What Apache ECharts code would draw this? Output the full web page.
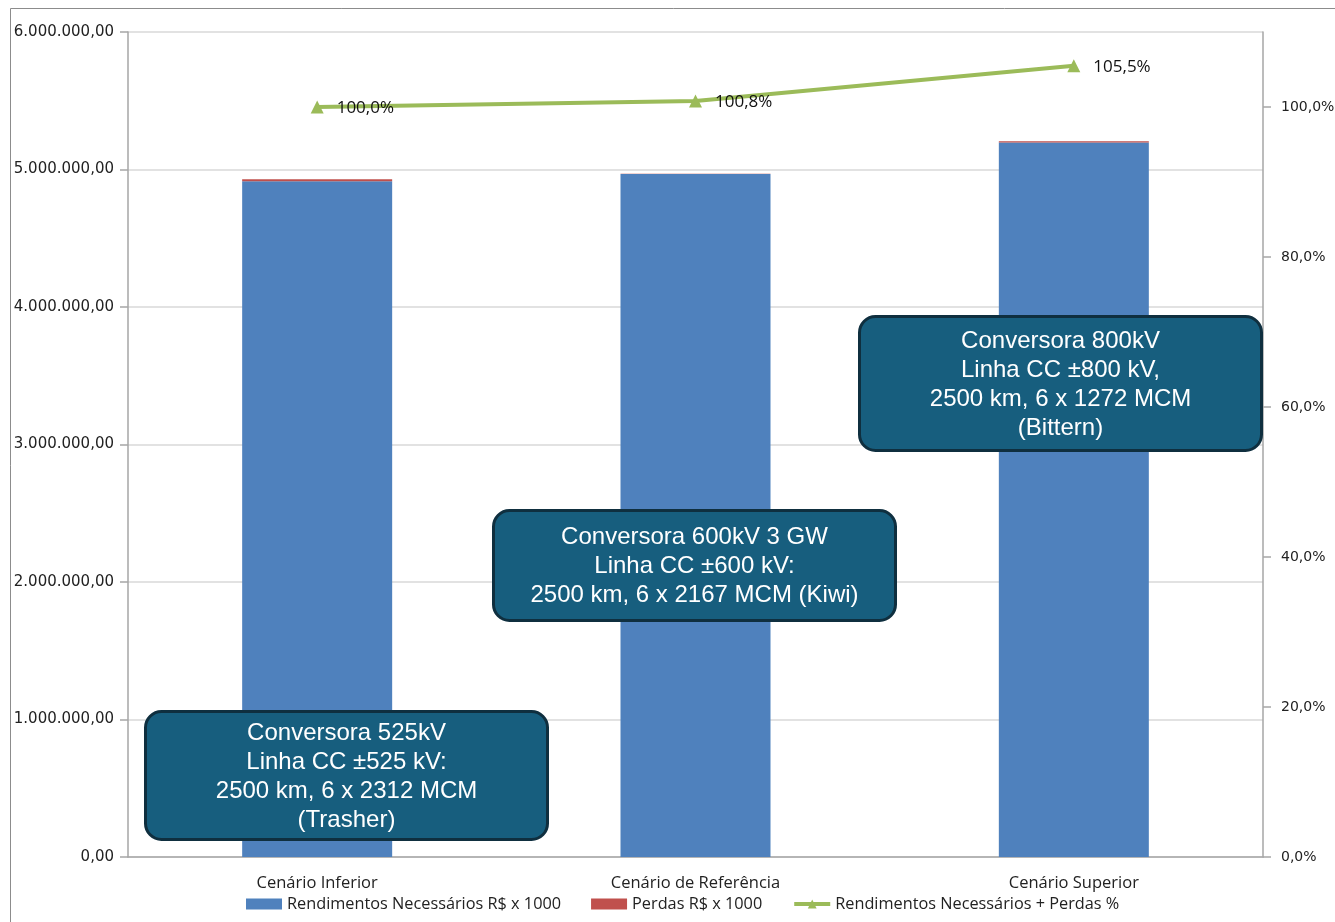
<!DOCTYPE html>
<html>
<head>
<meta charset="utf-8">
<script src="https://cdn.jsdelivr.net/npm/echarts@6/dist/echarts.min.js"></script>
<style>
html,body{margin:0;padding:0;background:#fff;}
#chart{width:1335px;height:922px;}
</style>
</head>
<body>
<div id="chart"></div>
<script>
const categories = ['Cenário Inferior', 'Cenário de Referência', 'Cenário Superior'];
const rendimentos = [4914000, 4967000, 5197000];
const perdas = [15000, 2000, 8000];
const percentual = [100.0, 100.8, 105.5];
const leftTicks = [0, 1000000, 2000000, 3000000, 4000000, 5000000, 6000000];
const rightTicks = [0, 20, 40, 60, 80, 100];
const seriesNames = ['Rendimentos Necessários R$ x 1000', 'Perdas R$ x 1000', 'Rendimentos Necessários + Perdas %'];
const boxTexts = [
  'Conversora 525kV\nLinha CC ±525 kV:\n2500 km, 6 x 2312 MCM\n(Trasher)',
  'Conversora 600kV 3 GW\nLinha CC ±600 kV:\n2500 km, 6 x 2167 MCM (Kiwi)',
  'Conversora 800kV\nLinha CC ±800 kV,\n2500 km, 6 x 1272 MCM\n(Bittern)'
];

function fmtMoney(v) {
  const s = Math.round(v).toString().replace(/\B(?=(\d{3})+(?!\d))/g, '.');
  return s + ',00';
}
function fmtPct(v) { return v.toFixed(1).replace('.', ',') + '%'; }

const chart = echarts.init(document.getElementById('chart'));
const axisGray = '#A6A6A6';
const axFont = '"DejaVu Sans", Verdana, sans-serif';
const boxFont = '"Liberation Sans", Arial, sans-serif';
const catFont = '"Open Sans", Lato, sans-serif';

function box(x, y, w, h, text) {
  return {
    type: 'group', left: x, top: y, z: 100,
    children: [
      { type: 'rect', z: 100, shape: { x: 0, y: 0, width: w, height: h, r: 16 },
        style: { fill: '#175E7E', stroke: '#0F2F3F', lineWidth: 3 } },
      { type: 'text', z: 101, x: w / 2, y: h / 2 + 1,
        style: { text: text, fill: '#fff', font: '24px ' + boxFont, align: 'center', verticalAlign: 'middle', lineHeight: 29 } }
    ]
  };
}

chart.setOption({
  animation: false,
  backgroundColor: '#fff',
  grid: { left: 128, right: 72, top: 32, bottom: 65, containLabel: false, outerBoundsMode: 'none' },
  legend: {
    left: 241, top: 891,
    itemGap: 30,
    itemWidth: 36, itemHeight: 11,
    textStyle: { fontFamily: catFont, fontSize: 16.3, color: '#222' },
    data: [
      { name: seriesNames[0], icon: 'rect' },
      { name: seriesNames[1], icon: 'rect' },
      { name: seriesNames[2], lineStyle: { width: 4 } }
    ]
  },
  xAxis: {
    type: 'category', data: categories,
    axisLine: { lineStyle: { color: axisGray, width: 1.5 } },
    axisTick: { length: 6, lineStyle: { color: axisGray, width: 1.5 } },
    axisLabel: { fontFamily: catFont, fontSize: 16.5, color: '#222', margin: 18 }
  },
  yAxis: [
    {
      type: 'value', min: 0, max: 6000000, interval: 1000000,
      axisLine: { show: true, lineStyle: { color: axisGray, width: 1.5 } },
      axisTick: { show: true, length: 8, lineStyle: { color: axisGray, width: 1.5 } },
      splitLine: { lineStyle: { color: '#D9D9D9', width: 1.5 } },
      axisLabel: { fontFamily: axFont, fontSize: 15, color: '#222', margin: 14, formatter: fmtMoney, customValues: leftTicks }
    },
    {
      type: 'value', min: 0, max: 110, interval: 20, position: 'right',
      axisLine: { show: true, lineStyle: { color: axisGray, width: 1.5 } },
      axisTick: { show: true, length: 8, lineStyle: { color: axisGray, width: 1.5 }, customValues: rightTicks },
      splitLine: { show: false },
      axisLabel: { fontFamily: axFont, fontSize: 14, color: '#222', margin: 18, formatter: function (v) { return fmtPct(v); }, customValues: rightTicks }
    }
  ],
  series: [
    {
      name: seriesNames[0], type: 'bar', stack: 's', data: rendimentos,
      barWidth: 150, itemStyle: { color: '#4F81BD' }
    },
    {
      name: seriesNames[1], type: 'bar', stack: 's', data: perdas,
      barWidth: 150, itemStyle: { color: '#C0504D' }
    },
    {
      name: seriesNames[2], type: 'line', yAxisIndex: 1, data: percentual,
      symbol: 'triangle', symbolSize: 13,
      lineStyle: { color: '#9BBB59', width: 4 },
      itemStyle: { color: '#9BBB59' },
      label: { show: true, position: 'right', distance: 13, offset: [0, 1], fontFamily: catFont, fontSize: 17, color: '#111',
        formatter: function (p) { return fmtPct(p.value); } }
    }
  ],
  graphic: [
    { type: 'rect', left: 8, top: 6, z: 0, shape: { width: 1400, height: 1000 }, style: { fill: 'none', stroke: '#8C8C8C', lineWidth: 1 }, silent: true },
    box(144, 710, 402, 128, boxTexts[0]),
    box(492, 509, 402, 110, boxTexts[1]),
    box(858, 315, 402, 134, boxTexts[2])
  ]
});
</script>
</body>
</html>
